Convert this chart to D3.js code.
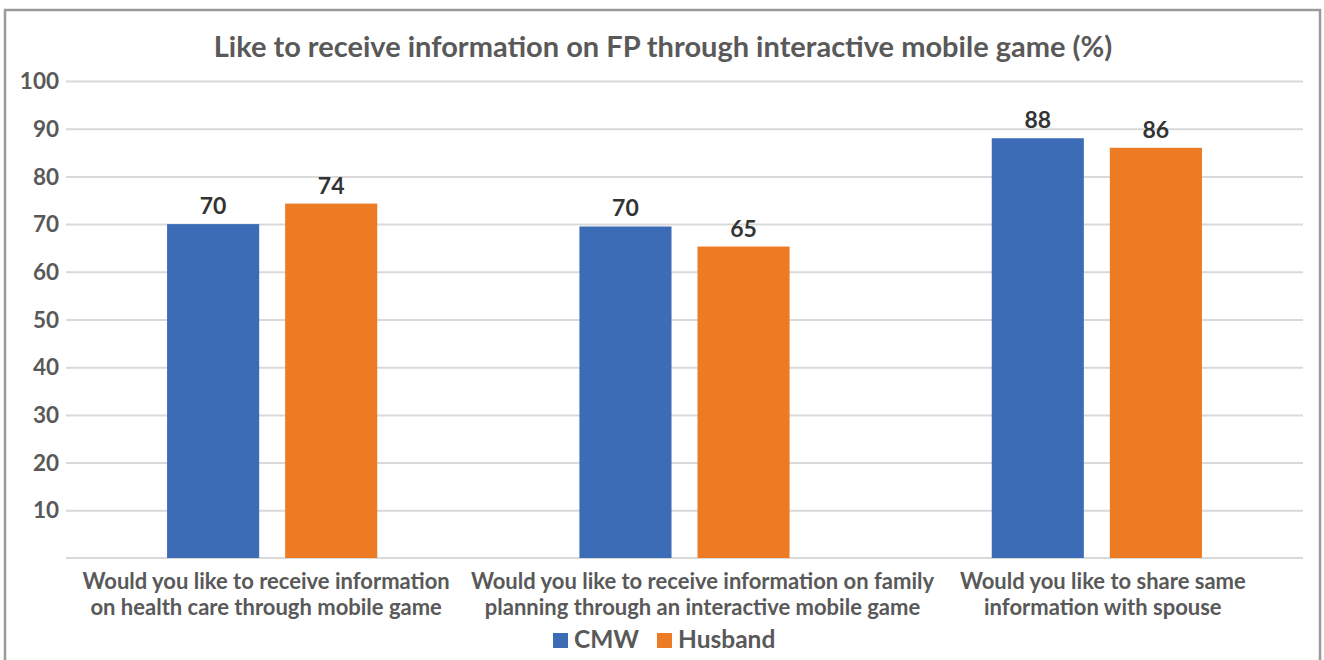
<!DOCTYPE html>
<html>
<head>
<meta charset="utf-8">
<script src="https://cdn.jsdelivr.net/npm/d3@7"></script>
<style>
  html, body { margin: 0; padding: 0; background: #fff; }
  svg { display: block; font-family: Lato, "Open Sans", sans-serif; }
</style>
</head>
<body>
<svg id="chart" width="1324" height="660"></svg>
<script>
const title = "Like to receive information on FP through interactive mobile game (%)";
const categories = [
  ["Would you like to receive information", "on health care through mobile game"],
  ["Would you like to receive information on family", "planning through an interactive mobile game"],
  ["Would you like to share same", "information with spouse"]
];
const seriesNames = ["CMW", "Husband"];
const cmwValues = [70, 69.5, 88];
const husbandValues = [74.3, 65.3, 86];
const cmwLabels = ["70", "70", "88"];
const husbandLabels = ["74", "65", "86"];
const yTicks = [10, 20, 30, 40, 50, 60, 70, 80, 90, 100];
const colors = ["#3c6cb5", "#ec7b24"];

const svg = d3.select("#chart");
const margin = { left: 66, right: 21, top: 81, bottom: 102 };
const W = 1324, H = 660;
// small horizontal nudges for the wrapped category labels (layout only)
const labelNudge = [-6, 18, 6];

// frame
svg.append("path")
  .attr("d", `M5,${H + 5} V10 H1320 V${H + 5}`)
  .attr("fill", "none").attr("stroke", "#9a9a9e").attr("stroke-width", 2.5);

const x0 = d3.scaleBand().domain(d3.range(categories.length))
  .range([margin.left, W - margin.right]).padding(0);
const x1 = d3.scaleBand().domain(seriesNames)
  .range([0, x0.bandwidth()]).paddingInner(0.22).paddingOuter(0.856);
const y = d3.scaleLinear().domain([0, 100]).range([H - margin.bottom, margin.top]);

// gridlines
const yAxis = d3.axisLeft(y).tickValues(yTicks).tickSize(-(W - margin.left - margin.right)).tickFormat(d3.format("d")).tickPadding(10);
const gy = svg.append("g").attr("transform", `translate(${margin.left},0)`).call(yAxis);
gy.select(".domain").remove();
gy.selectAll(".tick line").attr("stroke", "#d9d9d9").attr("stroke-width", 2);
gy.selectAll(".tick text").attr("fill", "#595959").attr("font-size", 22.5).attr("font-weight", 700)
  .attr("font-family", "Lato, sans-serif").attr("x", -7).attr("dy", "0.34em");

// baseline
svg.append("line").attr("x1", margin.left).attr("x2", W - margin.right)
  .attr("y1", y(0)).attr("y2", y(0)).attr("stroke", "#d9d9d9").attr("stroke-width", 2);

const data = categories.map((c, i) => ({
  i,
  vals: [
    { s: "CMW", v: cmwValues[i], l: cmwLabels[i] },
    { s: "Husband", v: husbandValues[i], l: husbandLabels[i] }
  ]
}));

const groups = svg.append("g").selectAll("g").data(data).join("g")
  .attr("transform", d => `translate(${x0(d.i)},0)`);

groups.selectAll("rect").data(d => d.vals).join("rect")
  .attr("x", d => x1(d.s)).attr("width", x1.bandwidth())
  .attr("y", d => y(d.v)).attr("height", d => y(0) - y(d.v))
  .attr("fill", (d, j) => colors[j]);

groups.selectAll("text.val").data(d => d.vals).join("text").attr("class", "val")
  .attr("x", d => x1(d.s) + x1.bandwidth() / 2).attr("y", d => y(d.v) - 10)
  .attr("text-anchor", "middle").attr("font-size", 23).attr("font-weight", 700)
  .attr("fill", "#333").text(d => d.l);

// category labels
const cl = svg.append("g").selectAll("text").data(categories).join("text")
  .attr("x", (d, i) => x0(i) + x0.bandwidth() / 2 + labelNudge[i])
  .attr("y", 589)
  .attr("text-anchor", "middle").attr("font-size", 22).attr("font-weight", 700).attr("fill", "#595959");
cl.selectAll("tspan").data(d => d).join("tspan")
  .attr("x", function() { return this.parentNode.getAttribute("x"); })
  .attr("dy", (d, k) => k === 0 ? 0 : 26).text(d => d);

// title
svg.append("text").attr("x", 663).attr("y", 57).attr("text-anchor", "middle")
  .attr("font-size", 29).attr("font-weight", 700).attr("fill", "#595959").text(title);

// legend
const legend = svg.append("g");
const legendItems = [{ name: "CMW", x: 553 }, { name: "Husband", x: 657 }];
legendItems.forEach((it, j) => {
  legend.append("rect").attr("x", it.x).attr("y", 633).attr("width", 15).attr("height", 15).attr("fill", colors[j]);
  legend.append("text").attr("x", it.x + 21).attr("y", 648).attr("font-size", 24.5).attr("font-weight", 700)
    .attr("fill", "#595959").text(it.name);
});
</script>
</body>
</html>
